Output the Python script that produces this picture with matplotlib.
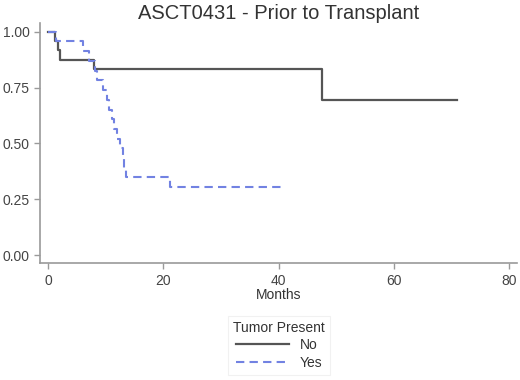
import matplotlib
matplotlib.use("Agg")
import matplotlib.pyplot as plt

plt.rcParams['font.family'] = ['Liberation Sans', 'DejaVu Sans']

# Kaplan-Meier estimates
no_months = [0, 1.2, 1.6, 2.0, 8.0, 47.6, 71.0]
no_surv = [1.0, 0.958, 0.917, 0.875, 0.833, 0.694, 0.694]

yes_months = [0, 1.3, 6.0, 7.1, 8.1, 8.5, 9.5, 10.2, 10.6, 11.0, 11.4,
              11.9, 12.4, 12.9, 13.2, 13.5, 21.1, 41.1]
yes_surv = [1.0, 0.957, 0.913, 0.870, 0.826, 0.783, 0.739, 0.696, 0.652,
            0.609, 0.565, 0.522, 0.478, 0.435, 0.391, 0.348, 0.304, 0.304]

x_ticks = [0, 20, 40, 60, 80]
y_ticks = [0.0, 0.25, 0.50, 0.75, 1.00]

fig = plt.figure(figsize=(5.2, 3.8), dpi=100)
ax = fig.add_axes([0.077, 0.307, 0.917, 0.632])

ax.step(no_months, no_surv, where='post', color='#555555', lw=1.6, label='No')
line_yes, = ax.step(yes_months, yes_surv, where='post', color='#7282e2',
                    lw=1.5, label='Yes')
line_yes.set_dashes([4, 2.5])

ax.set_xlim(-1.45, 81.4)
ax.set_ylim(-0.037, 1.039)
ax.set_xticks(x_ticks)
ax.set_yticks(y_ticks)
ax.set_yticklabels(['%.2f' % v for v in y_ticks])

for side in ['top', 'right']:
    ax.spines[side].set_visible(False)
for side in ['left', 'bottom']:
    ax.spines[side].set_color('#9a9a9a')
    ax.spines[side].set_linewidth(1.2)
ax.tick_params(colors='#9a9a9a', labelcolor='#444444', labelsize=10,
               length=4, width=1)

ax.set_xlabel('Months', fontsize=10, color='#333333', labelpad=0)
ax.set_title('ASCT0431 - Prior to Transplant', fontsize=14.5,
             color='#333333', pad=3)

leg = fig.legend(loc='upper center', bbox_to_anchor=(279 / 520, 1 - 309 / 380),
                 title='Tumor Present', fontsize=10, title_fontsize=10,
                 handlelength=3.8, frameon=True, fancybox=False,
                 borderpad=0.35, labelspacing=0.25)
leg.get_frame().set_edgecolor('#eeeeee')
leg.get_frame().set_linewidth(0.8)
for t in leg.get_texts():
    t.set_color('#333333')
leg.get_title().set_color('#333333')

fig.savefig('out.png', dpi=100)
